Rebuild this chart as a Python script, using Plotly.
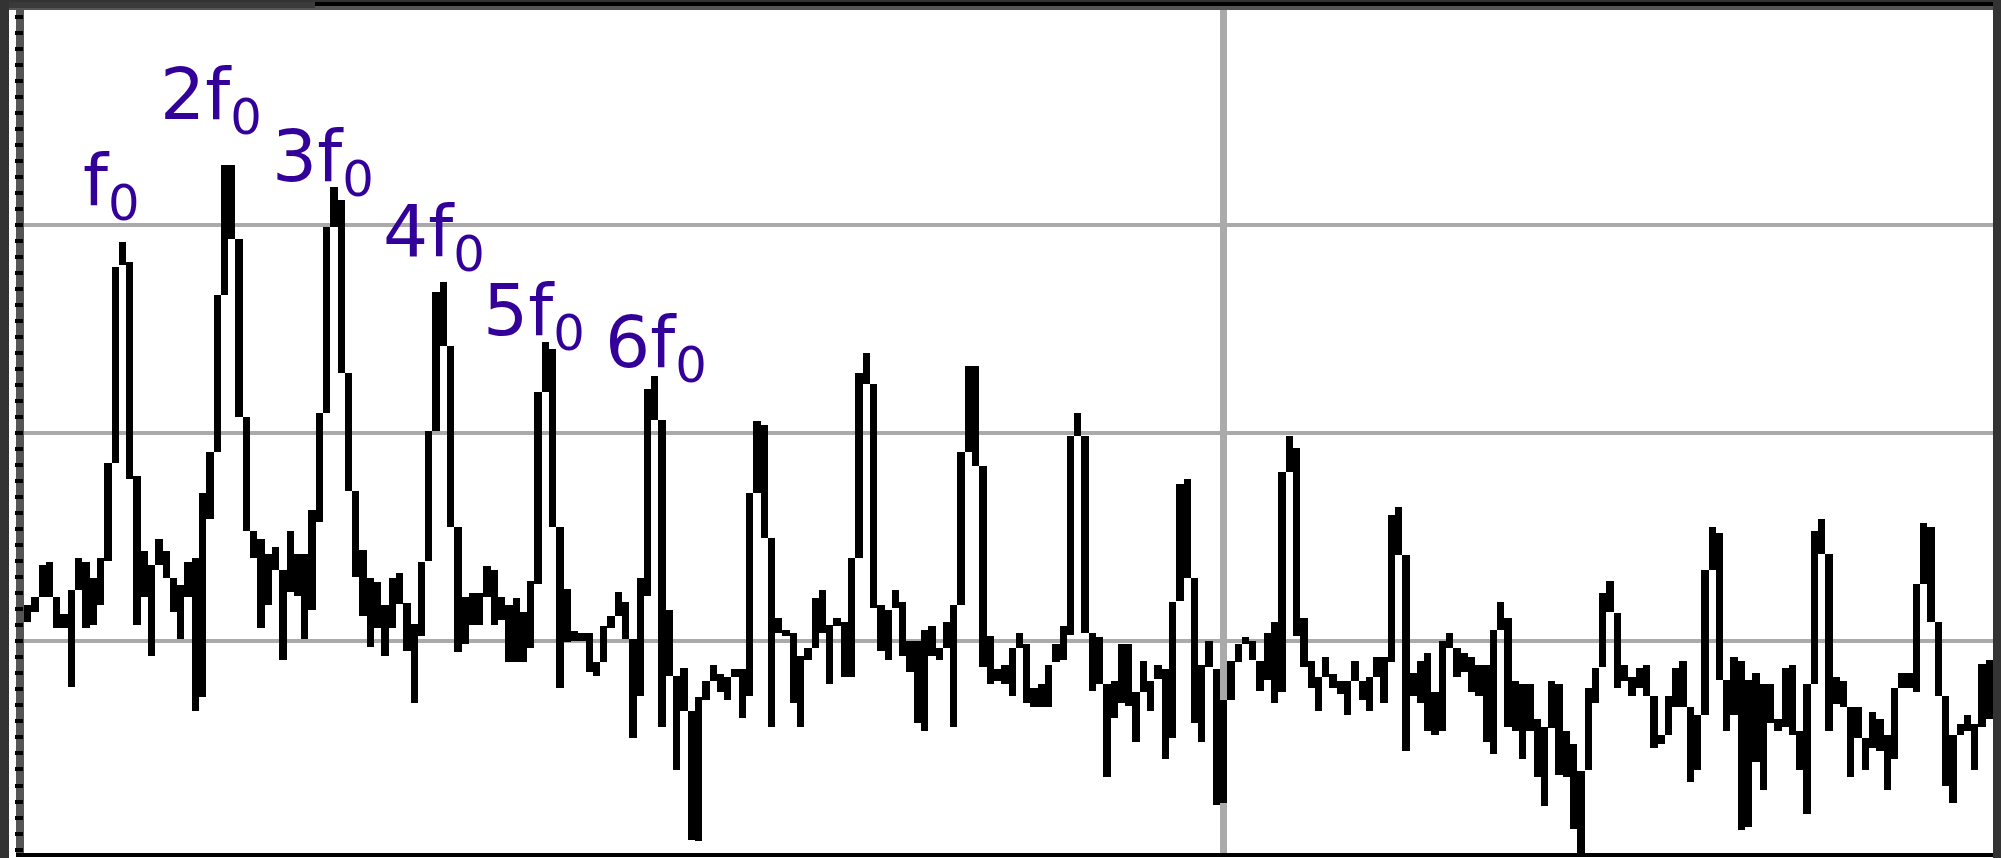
import plotly.graph_objects as go

# ---------------- data: per-bin spectrum envelope (dB) ----------------
bin_top_db = [
    -56.5, -55.7, -52.7, -52.4, -55.7, -57.4, -55.1, -52.0, -52.4, -53.9,
    -52.0, -42.9, -24.0, -21.6, -23.6, -44.1, -51.3, -52.7, -50.2, -51.3,
    -53.9, -54.6, -52.4, -52.0, -45.7, -41.8, -26.7, -14.2, -14.2, -21.3,
    -38.4, -49.4, -50.2, -51.6, -50.9, -53.1, -49.4, -51.6, -51.6, -47.4,
    -38.1, -20.2, -16.4, -17.6, -34.2, -45.6,
    -51.2, -53.9, -54.3, -56.5, -53.9, -53.4, -56.3, -58.3, -52.4, -39.8,
    -26.4, -25.5, -31.6, -49.0, -55.7, -55.4, -55.4, -52.8, -53.1, -55.7,
    -56.5, -55.8, -57.2, -54.2, -36.0, -31.2, -31.9, -49.0, -55.0, -59.0,
    -59.2, -59.2, -62.0, -58.5, -57.6, -55.3, -56.2, -59.8, -53.9, -35.8,
    -34.5, -38.7, -57.0, -63.3, -62.6, -66.7,
    -65.3, -63.8, -62.3, -63.1, -63.4, -62.7, -62.7, -45.7, -38.8, -39.2,
    -50.1, -57.8, -58.9, -59.2, -61.4, -60.6, -55.8, -55.1, -58.4, -57.8,
    -58.1, -52.0, -34.2, -32.3, -35.3, -56.5, -57.0, -55.1, -56.2, -60.0,
    -60.0, -58.9, -58.5, -60.6, -58.1, -56.5, -41.8, -33.5, -33.5, -43.2,
    -59.5, -62.7, -62.3, -60.6, -59.2,
    -60.3, -64.5, -64.1, -62.3, -60.3, -58.5, -40.3, -38.1, -40.3, -59.2,
    -59.6, -64.1, -63.8, -60.3, -60.3, -64.9, -61.9, -63.8, -62.3, -62.7,
    -56.2, -44.9, -44.4, -53.9, -62.3, -60.0, -62.7, -65.6, -61.9, -60.3,
    -59.6, -60.0, -61.9, -59.2, -58.1, -43.7, -40.3, -41.4, -57.8, -61.9,
    -63.4, -61.5, -63.1, -63.8, -63.8,
    -61.9, -63.8, -63.4, -61.5, -61.5, -47.9, -47.1, -51.7, -63.0, -61.9,
    -61.1, -64.9, -60.0, -59.2, -60.6, -61.1, -61.5, -62.3, -62.3, -58.9,
    -56.2, -57.8, -63.8, -64.1, -64.1, -67.5, -68.2, -63.8, -64.1, -68.6,
    -69.9, -72.5, -64.5, -62.6, -55.4, -54.2, -57.3, -62.3, -63.4, -62.6,
    -62.3, -65.2, -69.0, -65.2, -62.6,
    -61.9, -66.3, -67.1, -53.1, -49.0, -49.6, -63.7, -61.5, -61.9, -63.7,
    -63.0, -64.1, -64.1, -67.5, -62.6, -62.3, -68.6, -64.1, -49.4, -48.2,
    -51.6, -63.4, -63.8, -66.3, -66.3, -69.3, -66.8, -67.5, -69.0, -64.5,
    -63.0, -63.0, -54.5, -48.6, -49.0, -58.1, -65.2, -69.0, -67.9, -67.1,
    -67.9, -62.2, -61.8,
]

bin_bottom_db = [
    -58.1, -57.2, -55.7, -55.7, -58.7, -58.7, -64.4, -55.1, -58.7, -58.4,
    -56.5, -52.3, -42.9, -23.8, -44.4, -58.4, -55.7, -61.4, -52.7, -53.9,
    -57.2, -59.8, -55.7, -66.7, -65.3, -48.2, -41.8, -26.7, -21.3, -38.4,
    -49.4, -52.0, -58.7, -56.5, -53.1, -61.8, -55.3, -55.6, -59.8, -57.0,
    -48.5, -38.1, -20.2, -34.2, -45.6, -53.8,
    -57.6, -60.5, -58.7, -61.4, -58.7, -56.4, -60.9, -65.9, -59.5, -52.3,
    -39.8, -31.6, -49.0, -61.0, -60.3, -58.4, -58.4, -55.7, -58.4, -57.9,
    -62.0, -62.0, -62.0, -60.6, -54.5, -36.0, -49.0, -64.5, -60.1, -60.0,
    -60.0, -62.9, -63.3, -62.0, -58.7, -57.6, -59.8, -69.3, -65.2, -55.6,
    -38.7, -68.2, -63.3, -72.4, -66.7, -79.1,
    -79.2, -65.6, -63.8, -64.9, -65.6, -63.4, -67.4, -65.2, -45.7, -50.1,
    -68.2, -59.2, -59.5, -65.9, -68.2, -61.8, -60.6, -59.2, -64.1, -58.5,
    -63.4, -63.4, -52.0, -35.3, -56.8, -60.9, -61.8, -56.8, -61.4, -62.9,
    -67.8, -68.6, -61.4, -61.8, -60.6, -68.2, -56.5, -41.8, -43.2, -62.5,
    -64.1, -63.8, -64.1, -65.2, -60.6,
    -65.9, -66.3, -66.3, -66.3, -62.0, -61.8, -59.4, -40.3, -59.2, -64.8,
    -64.1, -73.0, -67.4, -65.9, -66.2, -69.7, -64.9, -66.7, -63.6, -71.3,
    -69.3, -56.1, -53.9, -67.8, -69.7, -62.5, -75.7, -75.5, -65.6, -62.0,
    -60.3, -61.8, -64.8, -63.7, -65.9, -64.9, -43.7, -59.5, -62.5, -64.5,
    -66.7, -63.4, -64.5, -65.1, -67.1,
    -63.8, -65.6, -66.7, -63.4, -65.9, -62.0, -51.7, -70.5, -65.2, -65.9,
    -68.6, -69.0, -68.6, -60.6, -63.4, -62.9, -64.9, -65.2, -69.7, -70.8,
    -58.9, -68.2, -68.6, -71.3, -68.6, -73.0, -75.8, -68.3, -72.8, -73.0,
    -78.0, -80.5, -72.4, -65.9, -62.5, -57.2, -64.5, -63.8, -65.2, -64.5,
    -65.2, -70.2, -69.9, -69.0, -66.3,
    -66.3, -73.5, -72.4, -67.1, -53.1, -63.7, -68.6, -67.1, -78.1, -77.8,
    -71.6, -74.3, -67.8, -68.6, -68.2, -69.0, -72.4, -76.6, -64.1, -51.6,
    -68.6, -66.0, -66.3, -73.0, -69.3, -72.4, -70.2, -70.5, -74.3, -71.3,
    -64.5, -64.5, -64.9, -54.5, -58.1, -65.2, -73.9, -75.5, -69.0, -68.6,
    -72.4, -68.2, -67.5,
]

bins = list(range(len(bin_top_db)))

harmonic_labels = ["f<sub>0</sub>", "2f<sub>0</sub>", "3f<sub>0</sub>",
                   "4f<sub>0</sub>", "5f<sub>0</sub>", "6f<sub>0</sub>"]
# label anchor (bin, dB) near each harmonic peak
label_bin = [11.5, 25.15, 40.5, 55.7, 69.5, 86.1]
label_db = [-16.2, -7.9, -13.95, -21.15, -28.7, -31.8]

grid_db = [-60, -40, -20]
grid_bin = [164]

# ---------------- layout geometry ----------------
W, H = 2001, 858
ML, MR, MT, MB = 24, 8, 10, 5
PW, PH = W - ML - MR, H - MT - MB


def pxx(xp):
    return (xp - ML) / PW


def pxy(yp):
    return (H - MB - yp) / PH


fig = go.Figure()
fig.add_trace(go.Bar(
    x=bins,
    y=[t - b for t, b in zip(bin_top_db, bin_bottom_db)],
    base=bin_bottom_db,
    width=1,
    marker=dict(color="black", line=dict(width=0)),
    hoverinfo="skip",
))

for txt, xb, yd in zip(harmonic_labels, label_bin, label_db):
    fig.add_annotation(x=xb, y=yd, xref="x", yref="y", text=txt,
                       showarrow=False, xanchor="center", yanchor="middle",
                       font=dict(family="DejaVu Sans", size=71, color="#33009a"))

shapes = []


def rect(x0, x1, y0, y1, color, layer="above"):
    shapes.append(dict(type="rect", xref="paper", yref="paper",
                       x0=pxx(x0), x1=pxx(x1), y0=pxy(y1), y1=pxy(y0),
                       fillcolor=color, line=dict(width=0), layer=layer))


rect(0, 9, 0, H, "#333333")            # left frame strip
rect(1993, W, 0, H, "#333333")         # right frame strip
rect(9, 1993, 0, 10, "#555555")        # top frame
rect(315, 1993, 0, 6, "#000000")
rect(9, 315, 2, 8, "#3a3a3a")
rect(9, 1993, 0, 2, "#333333")
rect(16, 24, 10, 853, "#555555", layer="below")   # ruler strip
rect(16, 1993, 853, 857, "#000000")               # bottom axis line

fig.update_layout(
    width=W, height=H,
    margin=dict(l=ML, r=MR, t=MT, b=MB, pad=0),
    paper_bgcolor="white", plot_bgcolor="white",
    showlegend=False, bargap=0,
    shapes=shapes,
    xaxis=dict(range=[-0.5, len(bins) - 0.5], tickmode="array", tickvals=grid_bin,
               showgrid=True, gridcolor="#aaaaaa", gridwidth=6.5,
               showticklabels=False, ticks="", zeroline=False, showline=False,
               fixedrange=True),
    yaxis=dict(range=[-80.33, 0.65], tickmode="array", tickvals=grid_db,
               showgrid=True, gridcolor="#aaaaaa", gridwidth=3.5,
               showticklabels=False, zeroline=False, showline=False,
               ticks="outside", ticklen=8, tickwidth=4, tickcolor="black",
               minor=dict(tickmode="linear", tick0=-20, dtick=20 / 13,
                          ticks="outside", ticklen=8, tickwidth=4,
                          tickcolor="black", showgrid=False),
               fixedrange=True),
)

fig.write_html(
    "out.html",
    config={"displayModeBar": False},
    post_script="document.body.style.margin='0px';"
                "document.documentElement.style.overflow='hidden';",
)
